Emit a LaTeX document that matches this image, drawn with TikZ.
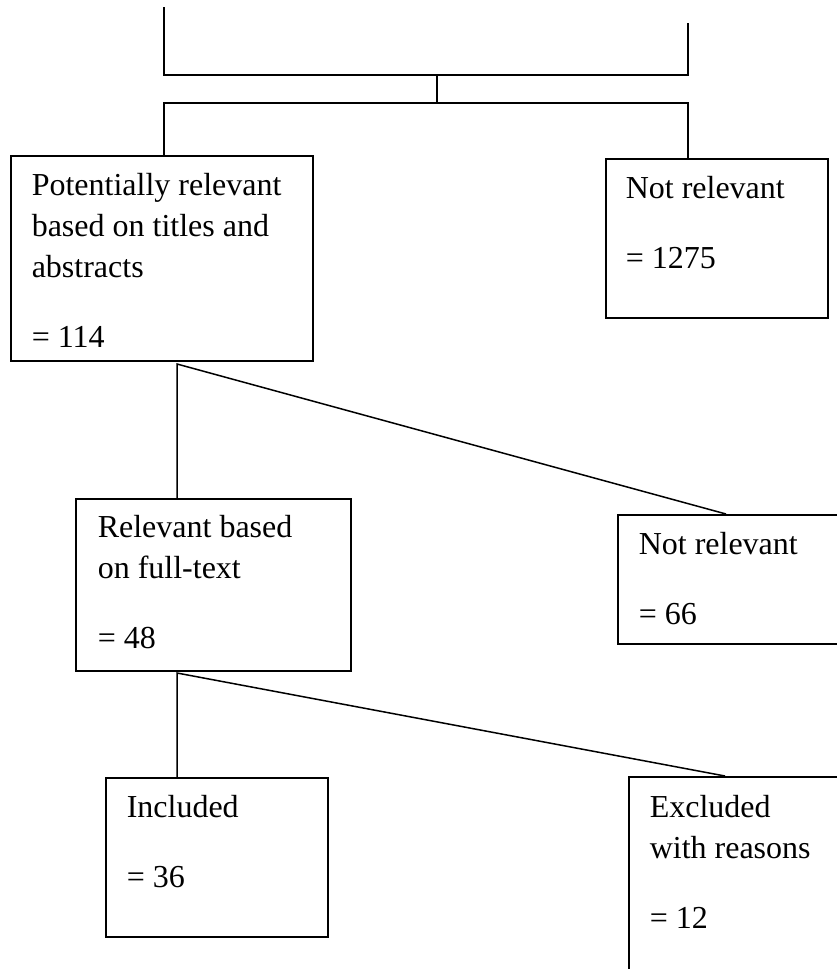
\documentclass[tikz,border=0pt]{standalone}
\usepackage{fontspec}
\setmainfont{Liberation Serif}
\usepackage{tikz}

\begin{document}
\begin{tikzpicture}[x=1pt, y=-1pt, line width=1.5pt,
  every node/.style={inner sep=0pt},
  box/.style={draw, rectangle, anchor=north west},
  txt/.style={anchor=north west, align=left, font=\fontsize{32}{41}\selectfont}]
\useasboundingbox (0,0) rectangle (837,969);
% --- Top bracket ---
\coordinate (inL) at (164,7);
\coordinate (inR) at (688,23);
\coordinate (joinT) at (437,75);
\coordinate (joinB) at (437,103);
% --- Boxes ---
\node[box, minimum width=302pt, minimum height=205pt] (pot) at (10,155) {};
\node[box, minimum width=222pt, minimum height=159pt] (nr1) at (605,158) {};
\node[box, minimum width=275pt, minimum height=172pt] (rel) at (75,498) {};
\node[box, minimum width=240pt, minimum height=129pt] (nr2) at (617,514) {}; % runs off the page
\node[box, minimum width=222pt, minimum height=159pt] (inc) at (105,777) {};
\node[box, minimum width=240pt, minimum height=220pt] (exc) at (628,776) {}; % runs off the page
% --- Texts ---
\node[txt] (pot-t) at ([shift={(21,18)}]pot.north west) {Potentially relevant\\ based on titles and\\ abstracts\\[29pt] = 114};
\node[txt] (nr1-t) at ([shift={(20,18)}]nr1.north west) {Not relevant\\[29pt] = 1275};
\node[txt] (rel-t) at ([shift={(22,17)}]rel.north west) {Relevant based\\ on full-text\\[29pt] = 48};
\node[txt] (nr2-t) at ([shift={(21,18)}]nr2.north west) {Not relevant\\[29pt] = 66};
\node[txt] (inc-t) at ([shift={(21,18)}]inc.north west) {Included\\[29pt] = 36};
\node[txt] (exc-t) at ([shift={(21,19)}]exc.north west) {Excluded\\ with reasons\\[29pt] = 12};
%
% --- Split points ---
\coordinate (s1) at (177,364);
\coordinate (e1) at (726,514);
\coordinate (s2) at (177,673);
\coordinate (e2) at (725,776);
%
% --- Edges ---
\draw (inL) |- (joinT) -| (inR);
\draw (joinT) -- (joinB);
\draw (pot.north -| inL) |- (joinB) -| (nr1.north -| inR);
%
\draw (rel.north -| s1) -- (s1) -- (e1);
\draw (inc.north -| s2) -- (s2) -- (e2);
%
\end{tikzpicture}
\end{document}
